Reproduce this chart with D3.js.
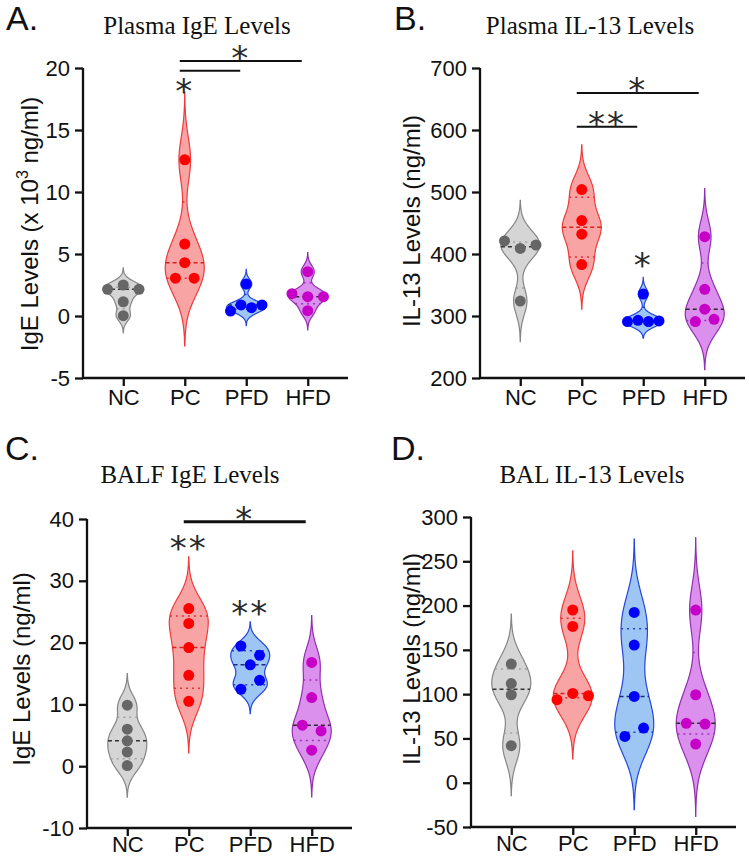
<!DOCTYPE html>
<html><head><meta charset="utf-8">
<script src="https://cdn.jsdelivr.net/npm/d3@7"></script>
<style>body{margin:0;background:#fff}svg{display:block}</style>
</head><body>
<svg id="chart" width="749" height="858"></svg>
<script>
// ---------- DATA ----------
const categories = ["NC", "PC", "PFD", "HFD"];

// Panel A: Plasma IgE (x10^3 ng/ml), one array per category
const plasmaIgE = [
  [2.15, 2.5, 2.15, 1.15, 0.03],
  [12.6, 5.8, 4.3, 3.05, 3.05],
  [2.58, 0.4, 0.89, 0.67, 0.89],
  [3.57, 1.8, 1.56, 1.56, 0.43]
];
// Panel B: Plasma IL-13 (ng/ml)
const plasmaIL13 = [
  [421, 409, 414.5, 324],
  [504, 454, 432, 383],
  [335.5, 291, 293, 291, 292],
  [428, 343, 311, 291, 294.7]
];
// Panel C: BALF IgE (ng/ml)
const balfIgE = [
  [9.87, 5.99, 4.1, 2.3, 0.1],
  [25.5, 23.1, 19.2, 14.7, 10.5],
  [19.45, 17.95, 16.4, 12.45, 13.9],
  [16.8, 11.1, 6.63, 5.7, 2.6]
];
// Panel D: BAL IL-13 (ng/ml)
const balIL13 = [
  [134, 112, 99.3, 41.8],
  [195, 176.4, 93.7, 100.8, 98.2],
  [192.2, 155.4, 97.4, 52.3, 61.7],
  [194.9, 99.3, 67, 66.2, 43.6]
];

const ticksA = [-5, 0, 5, 10, 15, 20];
const ticksB = [200, 300, 400, 500, 600, 700];
const ticksC = [-10, 0, 10, 20, 30, 40];
const ticksD = [-50, 0, 50, 100, 150, 200, 250, 300];

// significance bars (value = data level of the bar) and group markers
const barsA = [{from: "PC", to: "HFD", value: 20.56, label: "*"}, {from: "PC", to: "PFD", value: 19.78, label: ""}];
const barsB = [{from: "PC", to: "HFD", value: 659.7, label: "*"}, {from: "PC", to: "PFD", value: 605.3, label: "**"}];
const barsC = [{from: "PC", to: "HFD", value: 39.56, label: "*"}];
const barsD = [];
const marksA = [{cat: "PC", value: 18.79, label: "*"}];
const marksB = [{cat: "PFD", value: 395, label: "*"}];
const marksC = [{cat: "PC", value: 36.57, label: "**"}, {cat: "PFD", value: 26.05, label: "**"}];
const marksD = [];

// ---------- STYLE ----------
const fillCol   = ["#d5d5d5", "#f8a4a4", "#9ec6f4", "#dc90ee"];
const strokeCol = ["#858585", "#ee3b3b", "#2546dc", "#922fae"];
const dotCol    = ["#666666", "#ff0000", "#0000ff", "#c600c6"];
const medCol    = ["#333333", "#d81f1f", "#1a2a80", "#2a2a2a"];
const qCol      = ["#a0a0a0", "#e03030", "#2040c0", "#a030c0"];
const sans = "'Liberation Sans', Arial, sans-serif";
const serif = "'Liberation Serif', 'Times New Roman', serif";
const starFont = "'DejaVu Sans', sans-serif";

const panels = [
  {data: plasmaIgE, ticks: ticksA, domain: [-5, 20], ax: 83, yTop: 68, yBot: 378, xPad: 3,
   title: "Plasma IgE Levels", tx: 197, ty: 34, label: "A.", lx: 6, ly: 30,
   ytitle: ["IgE Levels (x 10", "3", " ng/ml)"], ytx: 38, yty: 224, bars: barsA, marks: marksA, barW: 2},
  {data: plasmaIL13, ticks: ticksB, domain: [200, 700], ax: 480, yTop: 68, yBot: 378, xPad: 3,
   title: "Plasma IL-13 Levels", tx: 590, ty: 34, label: "B.", lx: 394, ly: 30,
   ytitle: ["IL-13 Levels (ng/ml)"], ytx: 420, yty: 221, bars: barsB, marks: marksB, barW: 2},
  {data: balfIgE, ticks: ticksC, domain: [-10, 40], ax: 87, yTop: 519, yBot: 828, xPad: 0,
   title: "BALF IgE Levels", tx: 190, ty: 483, label: "C.", lx: 5, ly: 460,
   ytitle: ["IgE Levels (ng/ml)"], ytx: 30, yty: 669, bars: barsC, marks: marksC, barW: 3},
  {data: balIL13, ticks: ticksD, domain: [-50, 300], ax: 471, yTop: 517, yBot: 827, xPad: 0,
   title: "BAL IL-13 Levels", tx: 592, ty: 483, label: "D.", lx: 391, ly: 460,
   ytitle: ["IL-13 Levels (ng/ml)"], ytx: 420, yty: 659, bars: barsD, marks: marksD, barW: 2}
];

const svg = d3.select("#chart");
const AXIS_LEN = 265, HALF_W = 19.5, DOT_R = 5.5, STAR_FS = 34;

function quantile(sorted, p) {
  const n = sorted.length, pos = p * (n + 1);
  if (pos <= 1) return sorted[0];
  if (pos >= n) return sorted[n - 1];
  const i = Math.floor(pos), f = pos - i;
  return sorted[i - 1] + f * (sorted[i] - sorted[i - 1]);
}
function kde(vals) {
  const n = vals.length, sd = d3.deviation(vals);
  const h = 0.63 * sd * Math.pow(n, -0.2);
  const lo = d3.min(vals) - 3 * h, hi = d3.max(vals) + 3 * h;
  const dens = v => d3.sum(vals, x => Math.exp(-0.5 * ((v - x) / h) ** 2));
  const pts = d3.range(161).map(i => { const v = lo + (hi - lo) * i / 160; return {v, d: dens(v)}; });
  const maxD = d3.max(pts, p => p.d);
  return {pts, dens, maxD};
}
function layoutDots(vals, y) {
  const items = vals.map((v, i) => ({v, i, py: y(v)}));
  const sorted = items.slice().sort((a, b) => a.py - b.py);
  const rows = []; let cur = null;
  sorted.forEach(it => {
    if (cur && Math.abs(it.py - cur[0].py) < 9.5) cur.push(it);
    else { cur = [it]; rows.push(cur); }
  });
  rows.forEach(r => {
    r.sort((a, b) => a.i - b.i);
    const k = r.length, s = k > 1 ? Math.min(18.7, 31.5 / (k - 1)) : 0;
    r.forEach((it, j) => it.dx = (j - (k - 1) / 2) * s);
  });
  return items;
}
function starY(cy) { return cy + 0.59 * STAR_FS; }
function addStar(g, x, cy, label) {
  g.append("text").attr("x", x).attr("y", starY(cy)).attr("text-anchor", "middle")
    .attr("font-family", starFont).attr("font-size", STAR_FS).attr("fill", "#2a2a2a")
    .attr("letter-spacing", 2).text(label);
}

panels.forEach(P => {
  const g = svg.append("g");
  const y = d3.scaleLinear().domain(P.domain).range([P.yBot, P.yTop]);
  const x = d3.scalePoint().domain(categories).range([P.ax, P.ax + AXIS_LEN]).padding(0.655);

  // violins
  P.data.forEach((vals, ci) => {
    const cx = x(categories[ci]);
    const K = kde(vals);
    const wAt = v => K.dens(v) / K.maxD * HALF_W;
    const area = d3.area().y(p => y(p.v)).x0(p => cx - p.d / K.maxD * HALF_W).x1(p => cx + p.d / K.maxD * HALF_W).curve(d3.curveBasis);
    g.append("path").attr("d", area(K.pts)).attr("fill", fillCol[ci]).attr("stroke", strokeCol[ci]).attr("stroke-width", 1.2);
    const s = vals.slice().sort(d3.ascending);
    [[0.25, "q"], [0.75, "q"], [0.5, "m"]].forEach(([p, t]) => {
      const v = quantile(s, p), w = wAt(v);
      g.append("line").attr("x1", cx - w).attr("x2", cx + w).attr("y1", y(v)).attr("y2", y(v))
        .attr("stroke", t === "m" ? medCol[ci] : qCol[ci]).attr("stroke-width", 1.5)
        .attr("stroke-dasharray", t === "m" ? "4,3" : "2,4");
    });
  });
  // dots
  P.data.forEach((vals, ci) => {
    const cx = x(categories[ci]);
    g.selectAll(null).data(layoutDots(vals, y)).enter().append("circle")
      .attr("cx", d => cx + d.dx).attr("cy", d => d.py).attr("r", DOT_R).attr("fill", dotCol[ci]);
  });

  // axes
  const ya = g.append("g").attr("transform", `translate(${P.ax},0)`)
    .call(d3.axisLeft(y).tickValues(P.ticks).tickFormat(d => String(d)).tickSize(8).tickSizeOuter(0).tickPadding(5));
  const xa = g.append("g").attr("transform", `translate(0,${P.yBot})`)
    .call(d3.axisBottom(x).tickSize(8).tickSizeOuter(0).tickPadding(P.xPad));
  [ya, xa].forEach(a => {
    a.selectAll("path,line").attr("stroke", "#111").attr("stroke-width", 2.3);
    a.selectAll("text").attr("font-family", sans).attr("font-size", 22).attr("fill", "#111");
  });
  ya.select(".domain").attr("d", `M0,${P.yTop}V${P.yBot + 1.1}`);
  xa.select(".domain").attr("d", `M${P.ax - 1.1},0H${P.ax + AXIS_LEN}`);

  // significance bars
  P.bars.forEach(b => {
    const x1 = x(b.from) - 5, x2 = x(b.to) - 6, yy = y(b.value);
    g.append("line").attr("x1", x1).attr("x2", x2).attr("y1", yy).attr("y2", yy).attr("stroke", "#111").attr("stroke-width", P.barW);
    if (b.label) addStar(g, (x1 + x2) / 2, yy - 11, b.label);
  });
  P.marks.forEach(m => addStar(g, x(m.cat), y(m.value), m.label));

  // titles
  g.append("text").attr("x", P.tx).attr("y", P.ty).attr("text-anchor", "middle").attr("font-family", serif)
    .attr("font-size", 25).attr("fill", "#111").text(P.title);
  g.append("text").attr("x", P.lx).attr("y", P.ly).attr("font-family", sans).attr("font-size", 34).attr("fill", "#111").text(P.label);
  const yt = g.append("text").attr("transform", `translate(${P.ytx},${P.yty}) rotate(-90)`).attr("text-anchor", "middle")
    .attr("font-family", sans).attr("font-size", 24).attr("fill", "#111");
  if (P.ytitle.length === 1) yt.text(P.ytitle[0]);
  else {
    yt.append("tspan").text(P.ytitle[0]);
    yt.append("tspan").attr("font-size", 16).attr("dy", -10).text(P.ytitle[1]);
    yt.append("tspan").attr("dy", 10).text(P.ytitle[2]);
  }
});
</script>
</body></html>
